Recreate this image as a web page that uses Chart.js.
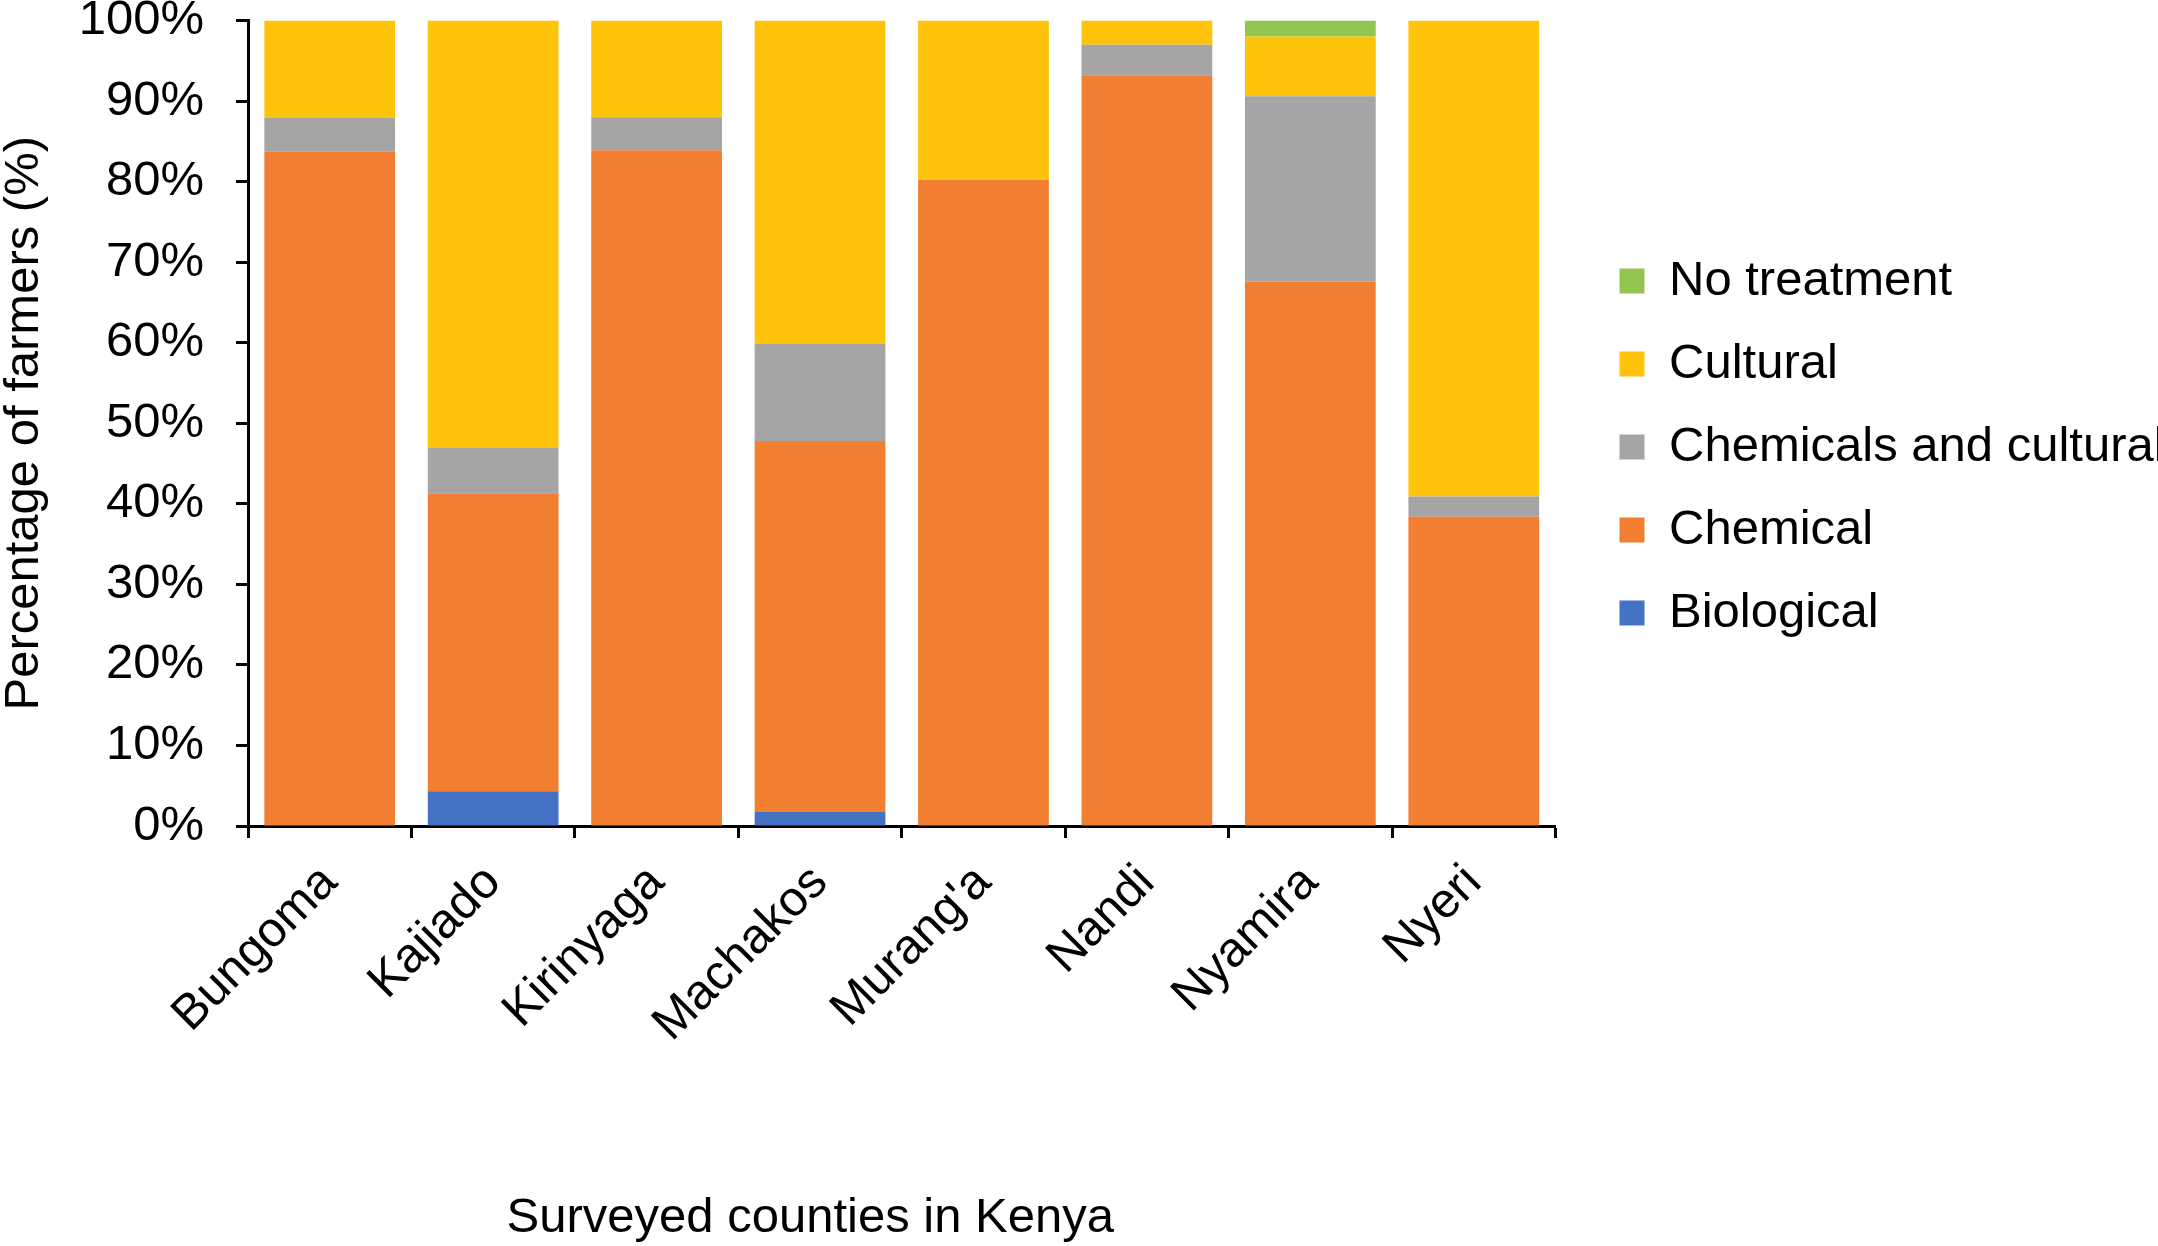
<!DOCTYPE html>
<html>
<head>
<meta charset="utf-8">
<title>Pest management by county</title>
<script src="https://cdn.jsdelivr.net/npm/chart.js@4/dist/chart.umd.min.js"></script>
<style>
  html, body { margin: 0; padding: 0; background: #fff; overflow: hidden; }
  #wrap { position: relative; width: 2158px; height: 1246px; }
</style>
</head>
<body>
<div id="wrap"><canvas id="chart"></canvas></div>
<script>
// Data (percent of farmers per county)
const counties = ['Bungoma', 'Kajiado', 'Kirinyaga', 'Machakos', "Murang'a", 'Nandi', 'Nyamira', 'Nyeri'];
const biological = [0, 4.3, 0, 1.8, 0, 0, 0, 0];
const chemical = [83.7, 37.0, 83.9, 46.0, 80.2, 93.2, 67.6, 38.4];
const chemCultural = [4.2, 5.7, 4.1, 12.1, 0, 3.8, 23.0, 2.5];
const cultural = [12.1, 53.0, 12.0, 40.1, 19.8, 3.0, 7.4, 59.1];
const noTreatment = [0, 0, 0, 0, 0, 0, 2.0, 0];
const yTicks = [0, 10, 20, 30, 40, 50, 60, 70, 80, 90, 100];

const FONT = '"Liberation Sans", Arial, sans-serif';
const SIZE = 49;

// x-axis title sits well below the labels and a little left of centre
const xTitle = {
  id: 'xTitle',
  afterDraw(chart) {
    const { ctx, chartArea } = chart;
    ctx.save();
    ctx.font = SIZE + 'px ' + FONT;
    ctx.fillStyle = '#000';
    ctx.textAlign = 'center';
    ctx.textBaseline = 'middle';
    ctx.fillText('Surveyed counties in Kenya', chartArea.left + chartArea.width * 0.43, chart.height - 28);
    ctx.restore();
  }
};

// place the legend a little away from the plot, upper middle;
// let long labels run to the canvas edge like the original
const legendShift = {
  id: 'legendShift',
  afterLayout(chart) {
    const lg = chart.legend;
    const h = lg.bottom - lg.top;
    lg.left += 30;
    lg.right = chart.width + 100;
    lg.width = lg.right - lg.left;
    lg.top = chart.chartArea.top + 202;
    lg.bottom = lg.top + h;
  }
};

function ds(label, data, color) {
  return { label, data, backgroundColor: color, borderWidth: 0, barPercentage: 0.8, categoryPercentage: 1.0 };
}

new Chart(document.getElementById('chart'), {
  type: 'bar',
  data: {
    labels: counties,
    datasets: [
      ds('Biological', biological, '#4472C4'),
      ds('Chemical', chemical, '#F27E32'),
      ds('Chemicals and cultural', chemCultural, '#A5A5A5'),
      ds('Cultural', cultural, '#FFC30B'),
      ds('No treatment', noTreatment, '#92C550')
    ]
  },
  options: {
    responsive: true,
    maintainAspectRatio: false,
    animation: false,
    layout: { padding: { top: 0, right: 84, bottom: 0, left: 0 } },
    plugins: {
      tooltip: { enabled: false },
      legend: {
        position: 'right',
        align: 'start',
        reverse: true,
        labels: {
          boxWidth: 25,
          boxHeight: 25,
          padding: 34,
          color: '#000',
          font: { family: FONT, size: SIZE }
        }
      }
    },
    scales: {
      x: {
        stacked: true,
        afterFit(axis) { axis.height = 420; },
        grid: { drawOnChartArea: false, drawTicks: true, tickLength: 12, tickColor: '#000', tickWidth: 3 },
        border: { color: '#000', width: 3 },
        ticks: { color: '#000', font: { family: FONT, size: SIZE }, minRotation: 45, maxRotation: 45, padding: 16 }
      },
      y: {
        stacked: true,
        min: 0,
        max: 100,
        afterBuildTicks(axis) { axis.ticks = yTicks.map(v => ({ value: v })); },
        afterFit(axis) { axis.width = 248; axis.paddingTop = 20.5; },
        grid: { drawOnChartArea: false, drawTicks: true, tickLength: 12, tickColor: '#000', tickWidth: 3 },
        border: { color: '#000', width: 3 },
        ticks: { color: '#000', font: { family: FONT, size: SIZE, lineHeight: 1 }, padding: 32, callback: v => v + '%' },
        title: {
          display: true,
          text: 'Percentage of farmers (%)',
          color: '#000',
          font: { family: FONT, size: SIZE, lineHeight: 1 },
          padding: { top: 0, bottom: 30 }
        }
      }
    }
  },
  plugins: [xTitle, legendShift]
});
</script>
</body>
</html>
